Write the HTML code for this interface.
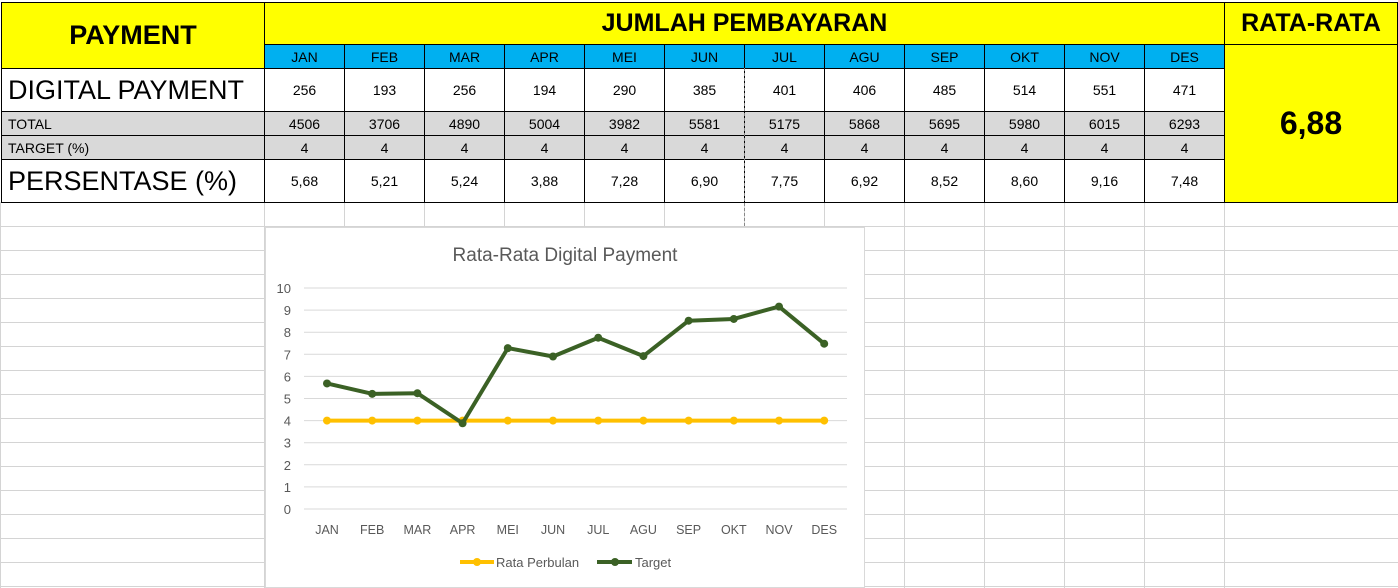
<!DOCTYPE html>
<html><head><meta charset="utf-8">
<style>
body{margin:0;width:1398px;height:588px;overflow:hidden;background:#fff;font-family:"Liberation Sans",sans-serif;position:relative}
.c{position:absolute;box-sizing:border-box;display:flex;align-items:center;justify-content:center;color:#000;white-space:nowrap}
.g{position:absolute;background:#d4d4d4}
</style></head>
<body>
<div id="sheet"></div>
<svg id="chart" style="position:absolute;left:265px;top:227px" width="600" height="361"></svg>
<script>
const months=["JAN","FEB","MAR","APR","MEI","JUN","JUL","AGU","SEP","OKT","NOV","DES"];
const digital=[256,193,256,194,290,385,401,406,485,514,551,471];
const totals=[4506,3706,4890,5004,3982,5581,5175,5868,5695,5980,6015,6293];
const targets=[4,4,4,4,4,4,4,4,4,4,4,4];
const persen=[5.68,5.21,5.24,3.88,7.28,6.90,7.75,6.92,8.52,8.60,9.16,7.48];
const yTicks=[0,1,2,3,4,5,6,7,8,9,10];
const S=document.getElementById('sheet');
function g(x,y,w,h){const d=document.createElement('div');d.className='g';d.style.cssText=`left:${x}px;top:${y}px;width:${w}px;height:${h}px`;


S.appendChild(d);}
for(let y=226;y<588;y+=24)g(0,y,1398,1);
for(let i=0;i<=13;i++){const x=i==0?264:(i==13?1224:264+i*80);g(x,202,1,386);}
g(0,202,1,386);
function cell(x,y,w,h,txt,css,name,inter){const d=document.createElement('div');d.className='c';d.style.cssText=`left:${x}px;top:${y}px;width:${w}px;height:${h}px;`+css;d.textContent=txt;


S.appendChild(d);return d;}
const B='border:1px solid #000;';
cell(1,2,264,67,'PAYMENT',B+'background:#ff0;font-weight:bold;font-size:27px;padding-bottom:0px','payment-header',true);
cell(264,2,961,43,'JUMLAH PEMBAYARAN',B+'background:#ff0;font-weight:bold;font-size:25px;justify-content:center','jumlah-header',true);
cell(1224,2,174,43,'RATA-RATA',B+'background:#ff0;font-weight:bold;font-size:25px','rata-header',true);
cell(1224,44,174,159,'6,88',B+'background:#ff0;font-weight:bold;font-size:32px','average-value',true);
const rows=[[68,44,'DIGITAL PAYMENT','#fff','font-size:27px',digital.map(String),'digital-payment'],
[111,25,'TOTAL','#d9d9d9','font-size:14px',totals.map(String),'total'],
[135,25,'TARGET (%)','#d9d9d9','font-size:14px',targets.map(String),'target'],
[159,44,'PERSENTASE (%)','#fff','font-size:27px',persen.map(v=>v.toFixed(2).replace('.',',')),'persentase']];
for(let i=0;i<12;i++)cell(264+i*80,44,81,25,months[i],B+'background:#00b0f0;font-size:14px','month-header-'+months[i].toLowerCase(),true);
rows.forEach(r=>{cell(1,r[0],264,r[1],r[2],B+`background:${r[3]};${r[4]};justify-content:flex-start;padding-left:6px`,r[6]+'-label',true);
for(let i=0;i<12;i++)cell(264+i*80,r[0],81,r[1],r[5][i],B+`background:${r[3]};font-size:14px`,r[6]+'-'+months[i].toLowerCase(),true);});
const dl=document.createElement('div');dl.style.cssText='position:absolute;left:744px;top:68px;height:158px;border-left:1px dashed #888';


S.appendChild(dl);
const NS='http://www.w3.org/2000/svg',C=document.getElementById('chart');
function el(t,a,name){const e=document.createElementNS(NS,t);for(const k in a)e.setAttribute(k,a[k]);


C.appendChild(e);return e;}
const ox=265,oy=227;
const xS=i=>327+i*45.2-ox, yS=v=>509-v*22.1-oy;
el('rect',{x:0.5,y:0.5,width:599,height:360,fill:'#fff',stroke:'#d9d9d9'},'chart-frame');
let t=el('text',{x:300,y:34,'text-anchor':'middle','font-size':19,fill:'#595959','font-family':'Liberation Sans'},'chart-title');t.textContent='Rata-Rata Digital Payment';
yTicks.forEach(v=>{el('line',{x1:39,x2:582,y1:yS(v),y2:yS(v),stroke:'#d9d9d9'},'y-gridline');
const tt=el('text',{x:26,y:yS(v)+5,'text-anchor':'end','font-size':13,fill:'#595959','font-family':'Liberation Sans'},'y-tick-label');tt.textContent=v;});
months.forEach((m,i)=>{const tt=el('text',{x:xS(i),y:307,'text-anchor':'middle','font-size':12.5,fill:'#595959','font-family':'Liberation Sans'},'x-tick-label');tt.textContent=m;});
function series(vals,col,name){el('polyline',{points:vals.map((v,i)=>xS(i)+','+yS(v)).join(' '),fill:'none',stroke:col,'stroke-width':4,'stroke-linejoin':'round'},name+'-line');
vals.forEach((v,i)=>el('circle',{cx:xS(i),cy:yS(v),r:4,fill:col},name+'-point'));}
series(targets,'#ffc000','rata-perbulan');
series(persen,'#3b6125','target');
el('line',{x1:195,x2:229,y1:335,y2:335,stroke:'#ffc000','stroke-width':4},'legend-rata-line');
el('circle',{cx:212,cy:335,r:4,fill:'#ffc000'},'legend-rata-marker');
t=el('text',{x:231,y:340,'font-size':13,fill:'#595959','font-family':'Liberation Sans'},'legend-rata-label');t.textContent='Rata Perbulan';
el('line',{x1:332,x2:367,y1:335,y2:335,stroke:'#3b6125','stroke-width':4},'legend-target-line');
el('circle',{cx:350,cy:335,r:4,fill:'#3b6125'},'legend-target-marker');
t=el('text',{x:370,y:340,'font-size':13,fill:'#595959','font-family':'Liberation Sans'},'legend-target-label');t.textContent='Target';
</script>
</body></html>
